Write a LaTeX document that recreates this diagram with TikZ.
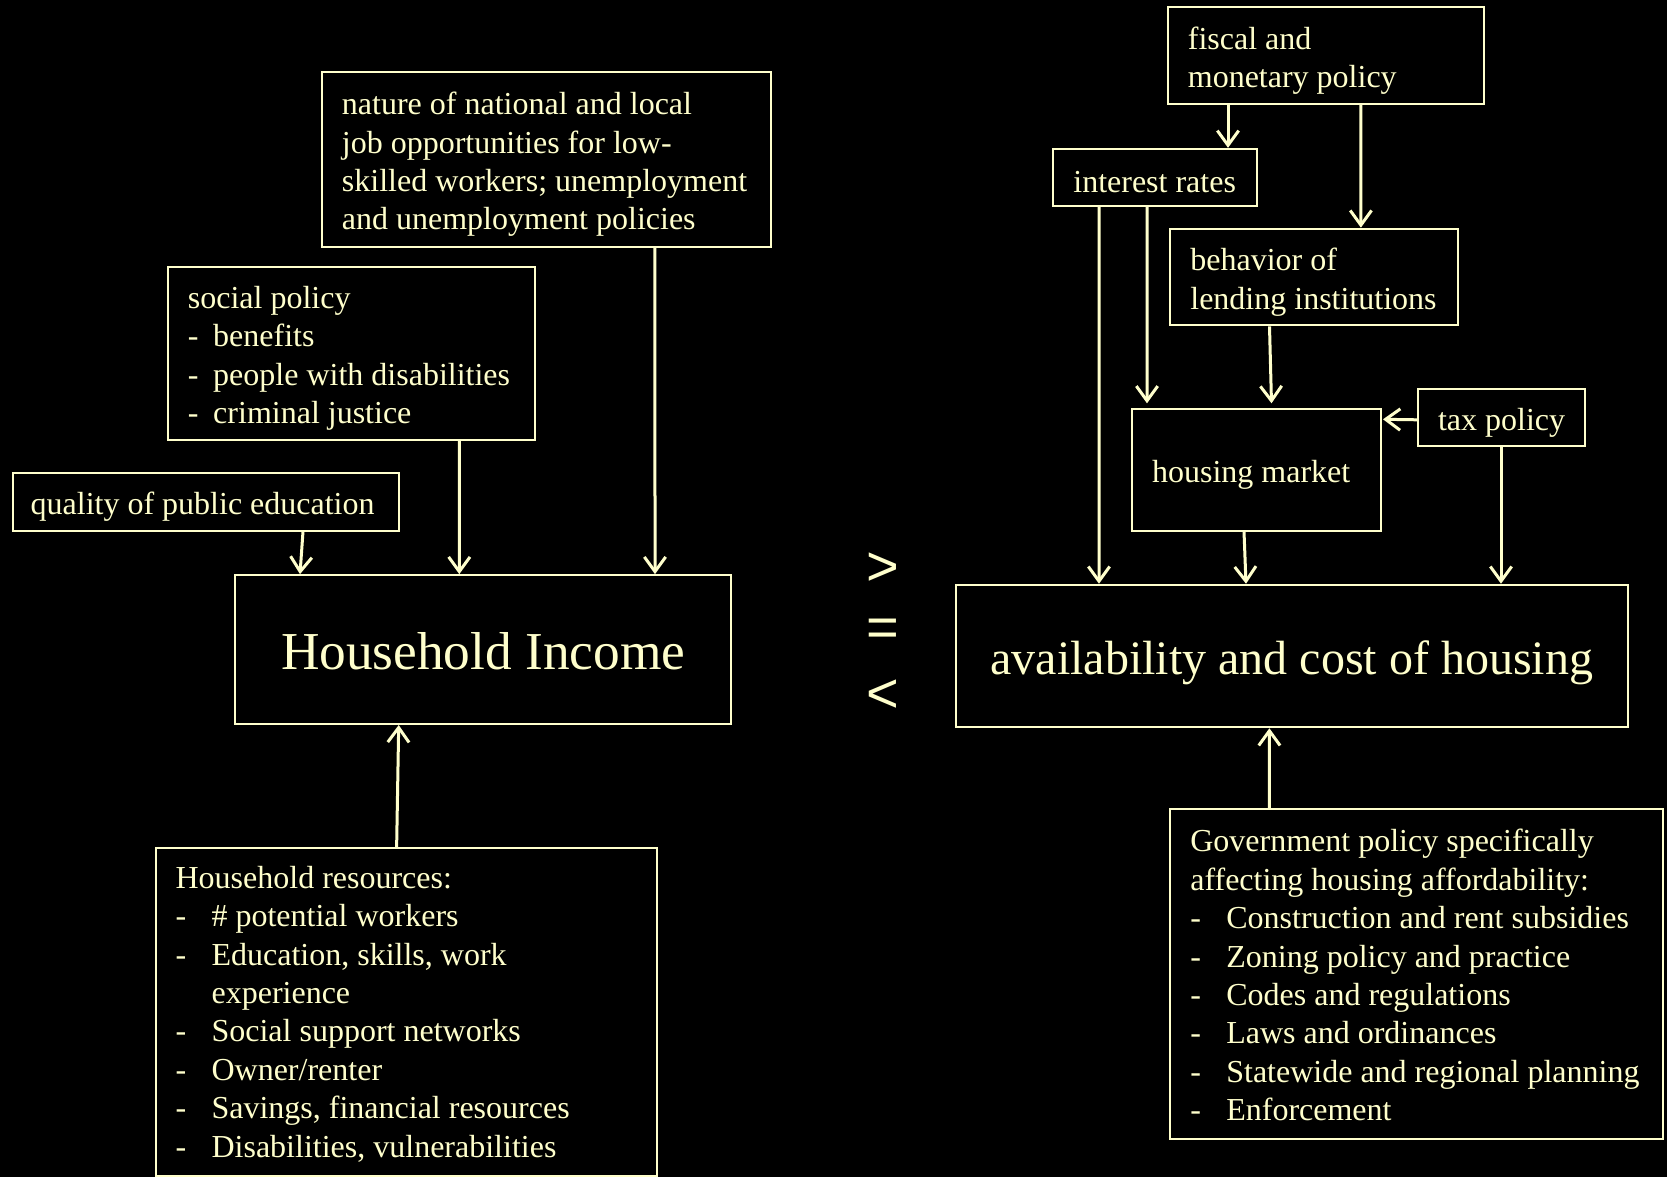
\documentclass[tikz,border=0pt]{standalone}
\usepackage{fontspec}
\setmainfont{Liberation Serif}
\setsansfont{Liberation Sans}
\usetikzlibrary{arrows.meta,calc}
\definecolor{cream}{HTML}{FFFFCC}
\newcommand{\dsh}[1]{\makebox[19pt][l]{-}#1}
\newcommand{\dshw}[1]{\makebox[27pt][l]{-}#1}
\begin{document}
\begin{tikzpicture}[x=0.75pt,y=-0.75pt,
  box/.style={draw=cream, line width=1.5pt, rectangle, inner sep=0pt},
  txt/.style={text=cream, inner sep=0pt, anchor=west, align=left, xshift=1.2pt, yshift=-3.75pt, font=\fontsize{24pt}{28.8pt}\selectfont},
  big/.style={text=cream, inner sep=0pt},
  arr/.style={draw=cream, line width=2.25pt, -{Straight Barb[length=11pt,width=16pt]}},
  sym/.style={text=cream, font=\sffamily\fontsize{42pt}{50pt}\selectfont, inner sep=0pt}]
\useasboundingbox (0,0) rectangle (1667,1177);
\fill[black] (0,0) rectangle (1667,1177);

% boxes
\node[box, minimum width=237pt, minimum height=72.6pt] (fisc) at (1326,55.8) {};
\node[box, minimum width=153pt, minimum height=43pt] (intr) at (1154.5,177.5) {};
\node[box, minimum width=216pt, minimum height=72.5pt] (behv) at (1313.5,277) {};
\node[box, minimum width=125.25pt, minimum height=43pt] (tax) at (1501.7,417.8) {};
\node[box, minimum width=186.6pt, minimum height=90.9pt] (hm) at (1256.6,469.9) {};
\node[box, minimum width=504pt, minimum height=106.9pt] (av) at (1291.7,656) {};
\node[box, minimum width=369.2pt, minimum height=247.2pt] (gov) at (1416.6,973.8) {};
\node[box, minimum width=336.5pt, minimum height=130.7pt] (nat) at (546.4,159.5) {};
\node[box, minimum width=275pt, minimum height=130pt] (soc) at (351.4,353.5) {};
\node[box, minimum width=289.5pt, minimum height=43.1pt] (qual) at (205.8,501.8) {};
\node[box, minimum width=372.3pt, minimum height=111.7pt] (hi) at (483.2,649.6) {};
\node[box, minimum width=376pt, minimum height=246.2pt] (hr) at (406.4,1011.9) {};

% texts
\node[txt] (tfisc) at ($(fisc.west)+(19,0)$) {fiscal and\\monetary policy};
\node[txt] (tintr) at ($(intr.west)+(20,0)$) {interest rates};
\node[txt] (tbehv) at ($(behv.west)+(20,0)$) {behavior of\\lending institutions};
\node[txt] (ttax) at ($(tax.west)+(19,0)$) {tax policy};
\node[txt] (thm) at ($(hm.west)+(19,0)$) {housing market};
\node[txt, yshift=2.7pt] (tgov) at ($(gov.west)+(19,0)$) {Government policy specifically\\affecting housing affordability:\\
  \dshw{Construction and rent subsidies}\\
  \dshw{Zoning policy and practice}\\
  \dshw{Codes and regulations}\\
  \dshw{Laws and ordinances}\\
  \dshw{Statewide and regional planning}\\
  \dshw{Enforcement}};
\node[txt] (tnat) at ($(nat.west)+(19,0)$) {nature of national and local\\job opportunities for low-\\skilled workers; unemployment\\and unemployment policies};
\node[txt] (tsoc) at ($(soc.west)+(19,0)$) {social policy\\\dsh{benefits}\\\dsh{people with disabilities}\\\dsh{criminal justice}};
\node[txt] (tqual) at ($(qual.west)+(17,0)$) {quality of public education};
\node[txt, yshift=2.2pt] (thr) at ($(hr.west)+(19,0)$) {Household resources:\\
  \dshw{\# potential workers}\\
  \dshw{Education, skills, work}\\
  \hspace*{27pt}experience\\
  \dshw{Social support networks}\\
  \dshw{Owner/renter}\\
  \dshw{Savings, financial resources}\\
  \dshw{Disabilities, vulnerabilities}};
\node[big, font=\fontsize{40pt}{48pt}\selectfont] (thi) at ($(hi)+(0,2)$) {Household Income};
\node[big, font=\fontsize{36pt}{43pt}\selectfont] (tav) at ($(av)+(0,6.5)$) {availability and cost of housing};

% comparison symbols
\node[sym] (gt) at (883,569) {>};
\node[sym] (eq) at (883,632.5) {=};
\node[sym] (lt) at (883,696.5) {<};

% arrows left
\draw[arr] ($(qual.south west)+(291.2,0)$) -- ($(hi.north west)+(66,0)$);
\draw[arr] ($(soc.south west)+(292.3,0)$) -- ($(hi.north west)+(225.3,0)$);
\draw[arr] ($(nat.south west)+(333.9,0)$) -- ($(hi.north west)+(421,0)$);
\draw[arr] ($(hr.north west)+(241.9,0)$) -- ($(hi.south west)+(164.7,0)$);

% arrows right
\draw[arr] ($(fisc.south west)+(61,0)$) -- ($(intr.north west)+(176.5,0)$);
\draw[arr] ($(fisc.south west)+(193.8,0)$) -- ($(behv.north west)+(192.4,0)$);
\draw[arr] ($(intr.south west)+(47.5,0)$) -- ($(av.north west)+(144.3,0)$);
\draw[arr] ($(intr.south west)+(95.5,0)$) -- ($(hm.north west)+(15.8,-5)$);
\draw[arr] ($(behv.south west)+(101,0)$) -- ($(hm.north west)+(140.3,-5)$);
\draw[arr] ($(tax.west)+(0,2)$) -- ($(hm.north east)+(1,11)$);
\draw[arr] ($(tax.south west)+(83.8,0)$) -- ($(av.north west)+(546.3,0)$);
\draw[arr] ($(hm.south west)+(112.8,0)$) -- ($(av.north west)+(291.3,0)$);
\draw[arr] ($(gov.north west)+(99.9,0)$) -- ($(av.south west)+(314.7,0)$);
\end{tikzpicture}
\end{document}
